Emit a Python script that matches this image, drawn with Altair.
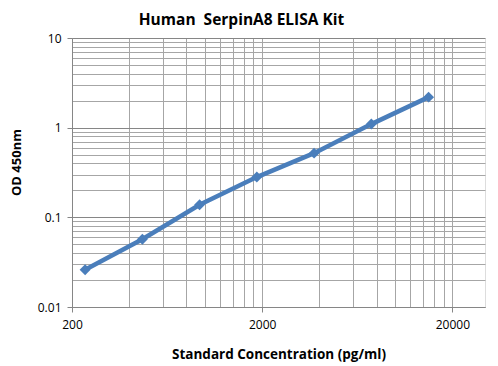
import altair as alt
import pandas as pd

conc = [234.4, 468.8, 937.5, 1875, 3750, 7500, 15000]
od = [0.026, 0.057, 0.138, 0.281, 0.520, 1.096, 2.19]

x_grid = [200, 400, 600, 800, 1000, 1200, 1400, 1600, 1800, 2000,
          4000, 6000, 8000, 10000, 12000, 14000, 16000, 18000, 20000]
x_major = [200, 2000, 20000]
y_grid = [0.01, 0.02, 0.03, 0.04, 0.05, 0.06, 0.07, 0.08, 0.09,
          0.1, 0.2, 0.3, 0.4, 0.5, 0.6, 0.7, 0.8, 0.9,
          1, 2, 3, 4, 5, 6, 7, 8, 9, 10]
y_major = [0.01, 0.1, 1, 10]

df = pd.DataFrame({"conc": conc, "od": od})

FONT = "Open Sans"
BLUE = "#4a7ebb"

xmaj = "indexof([" + ",".join(str(v) for v in x_major) + "], datum.value) >= 0"
ymaj = "indexof([" + ",".join(str(v) for v in y_major) + "], datum.value) >= 0"

x_enc = alt.X(
    "conc:Q",
    scale=alt.Scale(type="log", domain=[200, 29700], nice=False),
    axis=alt.Axis(
        values=x_grid,
        format="~g",
        labelExpr=f"{xmaj} ? datum.label : ''",
        tickSize={"condition": {"test": xmaj, "value": 5}, "value": 0},
        tickColor="#868686",
        domainColor="#868686",
        gridColor="#a6a6a6",
        gridWidth=1,
        labelFont=FONT,
        labelFontSize=12,
        labelColor="#000000",
        labelPadding=7,
        labelFlush=False,
        labelOverlap=False,
        title="Standard Concentration (pg/ml)",
        titleFont=FONT,
        titleFontSize=13.5,
        titleFontWeight="bold",
        titleColor="#000000",
        titlePadding=17,
    ),
)
y_enc = alt.Y(
    "od:Q",
    scale=alt.Scale(type="log", domain=[0.01, 10], nice=False),
    axis=alt.Axis(
        values=y_grid,
        format="~g",
        labelExpr=f"{ymaj} ? datum.label : ''",
        tickSize={"condition": {"test": ymaj, "value": 5}, "value": 0},
        tickColor="#868686",
        domainColor="#868686",
        gridColor={"condition": {"test": ymaj, "value": "#868686"}, "value": "#a6a6a6"},
        gridWidth=1,
        labelFont=FONT,
        labelFontSize=12,
        labelColor="#000000",
        labelPadding=6,
        labelFlush=False,
        labelOverlap=False,
        title="OD 450nm",
        titleFont=FONT,
        titleFontSize=13,
        titleFontWeight="bold",
        titleColor="#000000",
        titleX=-49,
        titleY=124,
    ),
)

line = alt.Chart(df).mark_line(color=BLUE, strokeWidth=4.5).encode(x=x_enc, y=y_enc)
pts = alt.Chart(df).mark_point(shape="diamond", filled=True, size=120, color=BLUE, opacity=1).encode(
    x="conc:Q", y="od:Q"
)

chart = (
    alt.layer(line, pts)
    .properties(
        width=413,
        height=269,
        padding={"left": 64, "top": 30, "right": 5, "bottom": 55},
        autosize=alt.AutoSizeParams(type="none"),
        title=alt.TitleParams(
            "Human\u00a0 SerpinA8 ELISA Kit",
            font=FONT,
            fontSize=15.5,
            fontWeight="bold",
            color="#000000",
            anchor="middle",
            dx=-37,
            offset=4,
        ),
    )
    .configure_view(stroke="#868686", strokeWidth=1)
    .configure(background="#ffffff")
)

chart.save("out.html", embed_options={"renderer": "svg", "actions": False})
